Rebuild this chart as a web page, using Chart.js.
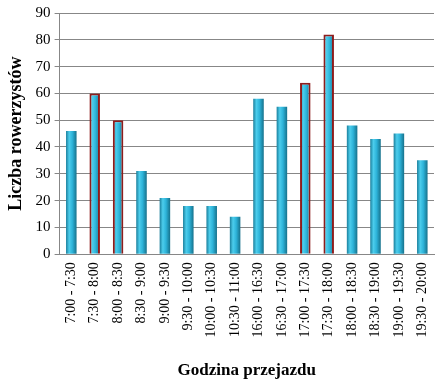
<!DOCTYPE html>
<html>
<head>
<meta charset="utf-8">
<script src="https://cdn.jsdelivr.net/npm/chart.js@4.4.1/dist/chart.umd.min.js"></script>
<style>
  html, body { margin: 0; padding: 0; background: #fff; }
  #wrap { width: 440px; height: 387px; position: relative; }
</style>
</head>
<body>
<div id="wrap"><canvas id="c" width="440" height="387"></canvas></div>
<script>
const categories = ["7:00 - 7:30", "7:30 - 8:00", "8:00 - 8:30", "8:30 - 9:00", "9:00 - 9:30", "9:30 - 10:00", "10:00 - 10:30", "10:30 - 11:00", "16:00 - 16:30", "16:30 - 17:00", "17:00 - 17:30", "17:30 - 18:00", "18:00 - 18:30", "18:30 - 19:00", "19:00 - 19:30", "19:30 - 20:00"];
const cyclists = [46, 60, 50, 31, 21, 18, 18, 14, 58, 55, 64, 82, 48, 43, 45, 35];
const peakSlots = ["7:30 - 8:00", "8:00 - 8:30", "17:00 - 17:30", "17:30 - 18:00"];
const yTicksMax = 90;
const yTicksStep = 10;

const FONT = "'Liberation Serif', 'Times New Roman', serif";
const BAR_PCT = 0.45;

function barGradient(ctx) {
  const chart = ctx.chart;
  const xs = chart.scales && chart.scales.x;
  if (!xs || !chart.chartArea) return '#2ab0d6';
  const cx = xs.getPixelForValue(ctx.dataIndex);
  const half = (xs.width / categories.length) * BAR_PCT / 2;
  const g = chart.ctx.createLinearGradient(cx - half, 0, cx + half, 0);
  g.addColorStop(0, '#1a7f9c');
  g.addColorStop(0.3, '#4ccdec');
  g.addColorStop(0.6, '#2db3d9');
  g.addColorStop(1, '#16718b');
  return g;
}

new Chart(document.getElementById('c'), {
  type: 'bar',
  data: {
    labels: categories,
    datasets: [{
      data: cyclists,
      backgroundColor: barGradient,
      borderColor: (ctx) => peakSlots.includes(categories[ctx.dataIndex]) ? '#8e1c1c' : 'rgba(0,0,0,0)',
      borderWidth: (ctx) => peakSlots.includes(categories[ctx.dataIndex]) ? 2 : 0,
      borderSkipped: 'bottom',
      barPercentage: BAR_PCT,
      categoryPercentage: 1
    }]
  },
  options: {
    responsive: false,
    animation: false,
    events: [],
    layout: { padding: { left: 6, right: 6, top: 5, bottom: 6 } },
    plugins: {
      legend: { display: false },
      tooltip: { enabled: false }
    },
    scales: {
      y: {
        min: 0,
        max: yTicksMax,
        ticks: {
          stepSize: yTicksStep,
          color: '#000',
          font: { family: FONT, size: 15 },
          padding: 4
        },
        grid: {
          color: '#878787',
          lineWidth: 1,
          drawTicks: true,
          tickLength: 5
        },
        border: { display: true, color: '#878787' },
        title: {
          display: true,
          text: 'Liczba rowerzystów',
          color: '#000',
          font: { family: FONT, size: 18, weight: 'bold' },
          padding: { top: 0, bottom: 4 }
        }
      },
      x: {
        afterFit: (scale) => { scale.paddingRight = 0; },
        ticks: {
          minRotation: 90,
          maxRotation: 90,
          autoSkip: false,
          color: '#000',
          font: { family: FONT, size: 14 },
          padding: 8
        },
        grid: { display: false, drawTicks: false },
        border: { display: true, color: '#878787' },
        title: {
          display: true,
          text: 'Godzina przejazdu',
          color: '#000',
          font: { family: FONT, size: 17, weight: 'bold' },
          padding: { top: 15, bottom: 0 }
        }
      }
    }
  }
});
</script>
</body>
</html>
